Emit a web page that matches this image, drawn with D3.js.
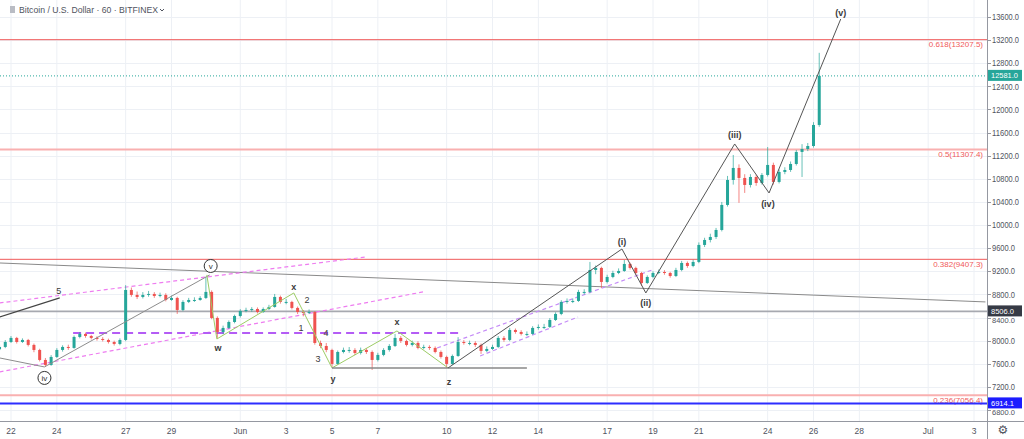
<!DOCTYPE html>
<html>
<head>
<meta charset="utf-8">
<script src="https://cdn.jsdelivr.net/npm/d3@7"></script>
<style>
  body { margin: 0; background: #fff; }
  svg { display: block; font-family: "Liberation Sans", Arial, sans-serif; }
</style>
</head>
<body>
<div id="chart"></div>
<script>
var W = 1024, H = 439,
    plotR = 987, plotB = 421;

// 6h candles starting here (open of first candle given separately)
var firstTime = "2019-05-21 12:00",
    firstOpen = 7850;

var closes = [
  7891, 7977, 8047, 7977, 8012, 7926, 7839, 7666, 7580, 7718,
  7839, 7891, 7874, 8064, 8116, 8081, 8047, 8029, 8012, 7977,
  7943, 8012, 8877, 8791, 8756, 8791, 8808, 8773, 8791, 8704,
  8739, 8531, 8670, 8704, 8704, 8739, 8843, 8393, 8150, 8220,
  8323, 8427, 8514, 8531, 8548, 8496, 8548, 8583, 8756, 8670,
  8670, 8566, 8496, 8479, 8496, 7960, 7908, 7839, 7597, 7804,
  7839, 7839, 7787, 7839, 7804, 7666, 7753, 7839, 7908, 8047,
  7995, 7926, 7960, 7874, 7891, 7874, 7804, 7718, 7597, 7735,
  7977, 7960, 7960, 7926, 7822, 7856, 7891, 8047, 8012, 8185,
  8150, 8116, 8116, 8220, 8237, 8237, 8358, 8462, 8670, 8687,
  8687, 8843, 8843, 9223, 9258, 9016, 9102, 9171, 9206, 9327,
  9258, 9171, 8998, 9102, 9171, 9188, 9171, 9119, 9223, 9344,
  9292, 9362, 9656, 9742, 9794, 9915, 10348, 10780, 10988, 10815,
  10694, 10832, 10728, 10867, 11040, 10746, 10919, 10953, 11057, 11265,
  11316, 11368, 11732, 12581
];
var highs = [
  7935, 8010, 8080, 8065, 8040, 8030, 7950, 7860, 7700, 7750,
  7870, 7920, 7930, 8090, 8150, 8140, 8100, 8075, 8060, 8035,
  8000, 8040, 8960, 8920, 8850, 8840, 8860, 8840, 8830, 8820,
  8780, 8760, 8700, 8740, 8750, 8770, 9102, 8870, 8420, 8260,
  8350, 8450, 8545, 8570, 8580, 8575, 8575, 8620, 8808, 8780,
  8720, 8690, 8590, 8530, 8540, 8510, 8000, 7960, 7860, 7830,
  7880, 7890, 7870, 7880, 7870, 7830, 7790, 7870, 7940, 8116,
  8080, 8020, 8000, 7990, 7930, 7920, 7900, 7830, 7740, 7760,
  8060, 8010, 8000, 7990, 7950, 7900, 7930, 8080, 8080, 8220,
  8210, 8180, 8160, 8250, 8280, 8290, 8390, 8490, 8700, 8730,
  8730, 8880, 8890, 9362, 9300, 9280, 9140, 9210, 9250, 9396,
  9350, 9280, 9190, 9130, 9200, 9230, 9220, 9190, 9260, 9380,
  9370, 9400, 9700, 9780, 9850, 9950, 10400, 10850, 11213, 11050,
  10880, 10880, 10870, 10900, 11350, 11080, 10960, 11000, 11100, 11300,
  11400, 11420, 11780, 12980
];
var lows = [
  7830, 7870, 7960, 7950, 7960, 7900, 7800, 7640, 7545, 7565,
  7700, 7810, 7840, 7860, 8040, 8050, 8020, 8000, 7985, 7950,
  7915, 7920, 7990, 8760, 8720, 8730, 8760, 8740, 8750, 8680,
  8690, 8462, 8510, 8650, 8670, 8690, 8720, 8370, 8047, 8110,
  8200, 8300, 8400, 8490, 8500, 8470, 8480, 8530, 8570, 8640,
  8630, 8540, 8460, 8420, 8460, 7930, 7870, 7800, 7545, 7580,
  7780, 7790, 7750, 7760, 7770, 7493, 7640, 7730, 7810, 7890,
  7960, 7900, 7900, 7850, 7850, 7840, 7780, 7690, 7528, 7580,
  7720, 7930, 7920, 7890, 7770, 7800, 7840, 7870, 7980, 7990,
  8120, 8090, 8080, 8100, 8190, 8200, 8220, 8340, 8440, 8640,
  8650, 8670, 8800, 8820, 9150, 8912, 8990, 9080, 9150, 9190,
  9230, 9140, 8946, 8980, 9080, 9150, 9140, 9090, 9100, 9200,
  9260, 9270, 9340, 9620, 9700, 9760, 9890, 10320, 10700, 10384,
  10556, 10650, 10680, 10700, 10840, 10700, 10720, 10880, 10920, 11030,
  10832, 11280, 11340, 11700
];

var priceTicks = [6800, 7200, 7600, 8000, 8400, 8800, 9200, 9600, 10000,
                  10400, 10800, 11200, 11600, 12000, 12400, 12800, 13200, 13600];
var dateTicks = [
  ["2019-05-22", "22"], ["2019-05-24", "24"], ["2019-05-27", "27"], ["2019-05-29", "29"],
  ["2019-06-01", "Jun"], ["2019-06-03", "3"], ["2019-06-05", "5"], ["2019-06-07", "7"],
  ["2019-06-10", "10"], ["2019-06-12", "12"], ["2019-06-14", "14"], ["2019-06-17", "17"],
  ["2019-06-19", "19"], ["2019-06-21", "21"], ["2019-06-24", "24"], ["2019-06-26", "26"],
  ["2019-06-28", "28"], ["2019-07-01", "Jul"], ["2019-07-03", "3"]
];

var fibLevels = [[0.618, 13207.5], [0.5, 11307.4], [0.382, 9407.3], [0.236, 7056.4]];
var lastPrice = 12581.0,
    grayLevel = 8506.0,
    blueLevel = 6914.1;

// drawings, points as [time, price]
var longTrend = [["2019-05-21 12:00", 9344], ["2019-07-03 12:00", 8670]];
var fiveLeg = [["2019-05-21 12:00", 8410], ["2019-05-24 03:00", 8739]];
var ivToV = [["2019-05-21 12:00", 7701], ["2019-05-23 11:00", 7545], ["2019-05-30 16:00", 9137]];
var pinkUpper = [["2019-05-21 12:00", 8652], ["2019-06-06 11:30", 9448]];
var pinkLower = [["2019-05-21 12:00", 7459], ["2019-06-08 23:15", 8843]];
var purpleLevel = [["2019-05-24 17:00", 8133], ["2019-06-10 12:00", 8133]];
var wxyxz = [["2019-05-30 13:00", 9137], ["2019-05-30 23:30", 8029], ["2019-06-03 08:00", 8825],
             ["2019-06-05 00:00", 7528], ["2019-06-07 20:00", 8168], ["2019-06-10 01:30", 7528]];
var baseLine = [["2019-06-05 00:00", 7528], ["2019-06-13 12:00", 7528]];
var impulse = [["2019-06-10 01:30", 7528], ["2019-06-17 15:30", 9586], ["2019-06-18 16:30", 8825],
               ["2019-06-22 13:30", 11403], ["2019-06-24 01:30", 10555], ["2019-06-27 04:30", 13565]];
var chanUpper = [["2019-06-09 14:00", 7873], ["2019-06-18 23:00", 9223]];
var chanLower = [["2019-06-11 11:00", 7735], ["2019-06-15 17:30", 8410]];

var waveLabels = [
  ["5", "2019-05-24 02:00", 8860], ["w", "2019-05-31 00:40", 7874],
  ["x", "2019-06-03 08:00", 8929], ["2", "2019-06-03 21:50", 8704],
  ["1", "2019-06-03 15:30", 8220], ["4", "2019-06-04 17:45", 8133],
  ["3", "2019-06-04 09:20", 7683], ["y", "2019-06-05 01:00", 7337],
  ["x", "2019-06-07 20:00", 8323], ["z", "2019-06-10 02:30", 7286],
  ["(i)", "2019-06-17 15:30", 9707], ["(ii)", "2019-06-18 16:30", 8652],
  ["(iii)", "2019-06-22 13:30", 11559], ["(iv)", "2019-06-24 00:15", 10365],
  ["(v)", "2019-06-27 04:30", 13669]
];
var circledLabels = [["iv", "2019-05-23 11:00", 7355], ["v", "2019-05-30 17:00", 9292]];

var parse = d3.utcParse("%Y-%m-%d %H:%M"),
    parseDay = d3.utcParse("%Y-%m-%d");

var x = d3.scaleUtc()
    .domain([parseDay("2019-05-22"), parseDay("2019-07-03")])
    .range([11, 974]);
var y = d3.scaleLinear()
    .domain([6800, 13600])
    .range([410, 17]);

var t0 = parse(firstTime);
var candles = closes.map(function(c, i) {
  return {t: new Date(t0.getTime() + i * 6 * 3600e3),
          o: i ? closes[i - 1] : firstOpen, h: highs[i], l: lows[i], c: c};
});

var svg = d3.select("#chart").append("svg")
    .attr("width", W)
    .attr("height", H);

svg.append("defs").append("clipPath")
    .attr("id", "plot")
  .append("rect")
    .attr("width", plotR)
    .attr("height", plotB);

// grid
svg.append("g").selectAll("line")
    .data(dateTicks)
  .enter().append("line")
    .attr("x1", function(d) { return x(parseDay(d[0])); })
    .attr("x2", function(d) { return x(parseDay(d[0])); })
    .attr("y1", 0)
    .attr("y2", plotB)
    .attr("stroke", "#edf0f5");
svg.append("g").selectAll("line")
    .data(priceTicks)
  .enter().append("line")
    .attr("x1", 0)
    .attr("x2", plotR)
    .attr("y1", function(d) { return Math.round(y(d)) + 0.5; })
    .attr("y2", function(d) { return Math.round(y(d)) + 0.5; })
    .attr("stroke", "#edf0f5");

var plot = svg.append("g").attr("clip-path", "url(#plot)");

function hline(v, color, width, dash) {
  plot.append("line")
      .attr("x1", 0)
      .attr("x2", plotR)
      .attr("y1", y(v))
      .attr("y2", y(v))
      .attr("stroke", color)
      .attr("stroke-width", width)
      .attr("stroke-dasharray", dash || null);
}

// fib levels
fibLevels.forEach(function(f) {
  var strong = (f[0] === 0.618 || f[0] === 0.382);
  hline(f[1], strong ? "#f05a5a" : "#f9b0b0", strong ? 1 : 2);
  plot.append("text")
      .attr("x", 983)
      .attr("y", y(f[1]) + 7.5)
      .attr("text-anchor", "end")
      .attr("font-size", 8)
      .attr("fill", "#f05a5a")
      .text(f[0] + "(" + f[1].toFixed(1) + ")");
});
hline(grayLevel, "#a7a9b0", 1.6);
hline(blueLevel, "#2d2dff", 2);
hline(lastPrice, "#26a69a", 1, "1,2");

var line = d3.line()
    .x(function(d) { return x(parse(d[0])); })
    .y(function(d) { return y(d[1]); });

function path(pts, color, width, dash) {
  plot.append("path")
      .attr("d", line(pts))
      .attr("fill", "none")
      .attr("stroke", color)
      .attr("stroke-width", width)
      .attr("stroke-dasharray", dash || null);
}

path(longTrend, "#8a8a8a", 1);
path(pinkUpper, "#ee7cf0", 1.2, "4,3");
path(pinkLower, "#ee7cf0", 1.2, "4,3");
path(purpleLevel, "#b45cf5", 2, "8,5");
path(chanUpper, "#c58cf7", 1.2, "4,3");
path(chanLower, "#c58cf7", 1.2, "4,3");

// candles
var bw = 3;
var up = "#26a69a", down = "#ef5350";
var cg = plot.append("g");
cg.selectAll("line")
    .data(candles)
  .enter().append("line")
    .attr("x1", function(d) { return x(d.t); })
    .attr("x2", function(d) { return x(d.t); })
    .attr("y1", function(d) { return y(d.h); })
    .attr("y2", function(d) { return y(d.l); })
    .attr("stroke", function(d) { return d.c >= d.o ? up : down; })
    .attr("stroke-opacity", 0.7)
    .attr("stroke-width", 1);
cg.selectAll("rect")
    .data(candles)
  .enter().append("rect")
    .attr("x", function(d) { return x(d.t) - bw / 2; })
    .attr("width", bw)
    .attr("y", function(d) { return y(Math.max(d.o, d.c)); })
    .attr("height", function(d) { return Math.max(1, Math.abs(y(d.o) - y(d.c))); })
    .attr("fill", function(d) { return d.c >= d.o ? up : down; });

path(fiveLeg, "#444", 1.2);
path(ivToV, "#8d8d8d", 1);
path(wxyxz, "#9ccc65", 1);
path(baseLine, "#888", 1.6);
path(impulse, "#555", 1);

// labels
plot.selectAll("text.wave")
    .data(waveLabels)
  .enter().append("text")
    .attr("class", "wave")
    .attr("x", function(d) { return x(parse(d[1])); })
    .attr("y", function(d) { return y(d[2]); })
    .attr("dy", "0.35em")
    .attr("text-anchor", "middle")
    .attr("font-size", 9)
    .attr("font-weight", function(d) { return /^[0-9]$/.test(d[0]) ? "normal" : "bold"; })
    .attr("fill", "#3b3b3b")
    .text(function(d) { return d[0]; });

var circ = plot.selectAll("g.circ")
    .data(circledLabels)
  .enter().append("g")
    .attr("class", "circ")
    .attr("transform", function(d) { return "translate(" + x(parse(d[1])) + "," + y(d[2]) + ")"; });
circ.append("circle")
    .attr("r", 6.5)
    .attr("fill", "#fff")
    .attr("stroke", "#333")
    .attr("stroke-width", 1);
circ.append("text")
    .attr("text-anchor", "middle")
    .attr("dy", "0.33em")
    .attr("font-size", 8)
    .attr("fill", "#333")
    .text(function(d) { return d[0]; });

// axes frame
svg.append("line")
    .attr("x1", plotR + 0.5).attr("x2", plotR + 0.5)
    .attr("y1", 0).attr("y2", H)
    .attr("stroke", "#9598a1");
svg.append("line")
    .attr("x1", 0).attr("x2", W)
    .attr("y1", plotB + 0.5).attr("y2", plotB + 0.5)
    .attr("stroke", "#9598a1");

// price axis
var tags = [lastPrice, grayLevel, blueLevel];
function nearTag(v) {
  return tags.some(function(t) { return Math.abs(y(t) - y(v)) < 9; });
}
var pa = svg.append("g");
pa.selectAll("line")
    .data(priceTicks)
  .enter().append("line")
    .attr("x1", plotR)
    .attr("x2", plotR + 4)
    .attr("y1", function(d) { return Math.round(y(d)) + 0.5; })
    .attr("y2", function(d) { return Math.round(y(d)) + 0.5; })
    .attr("stroke", "#9598a1");
pa.selectAll("text")
    .data(priceTicks)
  .enter().append("text")
    .attr("x", 992)
    .attr("y", function(d) { return y(d) + (nearTag(d) ? 2.5 : 0); })
    .attr("dy", "0.35em")
    .attr("font-size", function(d) { return nearTag(d) ? 7.5 : 9; })
    .attr("textLength", function(d) { return d >= 10000 ? 27 : 23; })
    .attr("lengthAdjust", "spacingAndGlyphs")
    .attr("fill", "#50535e")
    .text(function(d) { return d.toFixed(1); });

function priceTag(v, color) {
  pa.append("rect")
      .attr("x", plotR + 1)
      .attr("y", y(v) - 6)
      .attr("width", 34)
      .attr("height", 11)
      .attr("fill", color);
  pa.append("text")
      .attr("x", 991)
      .attr("y", y(v) - 0.5)
      .attr("dy", "0.35em")
      .attr("font-size", 8)
      .attr("textLength", v >= 10000 ? 27 : 23)
      .attr("lengthAdjust", "spacingAndGlyphs")
      .attr("fill", "#fff")
      .text(v.toFixed(1));
}
tags.forEach(function(v, i) {
  priceTag(v, ["#26a69a", "#363a45", "#1c1cff"][i]);
});

// time axis
var ta = svg.append("g");
ta.selectAll("text")
    .data(dateTicks)
  .enter().append("text")
    .attr("x", function(d) { return x(parseDay(d[0])); })
    .attr("y", 434)
    .attr("text-anchor", "middle")
    .attr("font-size", 8.5)
    .attr("fill", "#50535e")
    .text(function(d) { return d[1]; });

svg.append("text")
    .attr("x", 1003)
    .attr("y", 434)
    .attr("text-anchor", "middle")
    .attr("font-family", "DejaVu Sans")
    .attr("font-size", 12)
    .attr("fill", "#50535e")
    .text("\u2699");

// title
svg.append("rect")
    .attr("x", 10).attr("y", 6)
    .attr("width", 5).attr("height", 7)
    .attr("fill", "#b9bcc4");
svg.append("text")
    .attr("x", 19)
    .attr("y", 13)
    .attr("font-size", 9.5)
    .attr("textLength", 139)
    .attr("lengthAdjust", "spacingAndGlyphs")
    .attr("fill", "#50535e")
    .text("Bitcoin / U.S. Dollar \u00b7 60 \u00b7 BITFINEX");
svg.append("path")
    .attr("d", "M160,9 l2,2 l2,-2")
    .attr("fill", "none")
    .attr("stroke", "#50535e");
</script>
</body>
</html>
